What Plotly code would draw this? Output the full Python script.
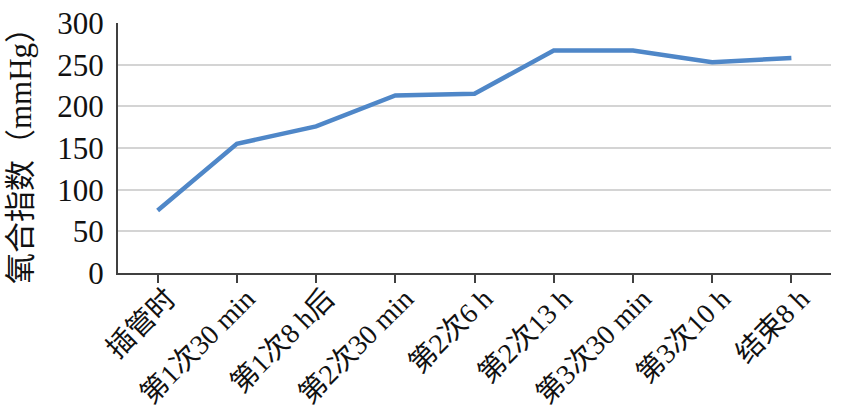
import plotly.graph_objects as go

# ---------------------------------------------------------------------------
# Data
# ---------------------------------------------------------------------------

time_points = [
    "插管时", "第1次30 min", "第1次8 h后", "第2次30 min", "第2次6 h",
    "第2次13 h", "第3次30 min", "第3次10 h", "结束8 h",
]
oxygenation_index = [75, 155, 176, 213, 215, 267, 267, 253, 258]

y_ticks = [0, 50, 100, 150, 200, 250, 300]

FONT = "Liberation Serif, Times New Roman, Noto Sans CJK SC, serif"

# ---------------------------------------------------------------------------
# Chart
# ---------------------------------------------------------------------------

fig = go.Figure()
fig.add_trace(go.Scatter(
    x=time_points,
    y=oxygenation_index,
    mode="lines",
    line=dict(color="#4f87c8", width=4.5),
    showlegend=False,
))

fig.update_layout(
    width=843,
    height=418,
    paper_bgcolor="white",
    plot_bgcolor="white",
    font=dict(family=FONT, color="#111111"),
    margin=dict(t=23, b=145, l=118, r=12),
    xaxis=dict(
        type="category",
        range=[-0.5, len(time_points) - 0.5],
        automargin=False,
        showgrid=False,
        showline=True,
        linecolor="#404040",
        linewidth=2,
        ticks="outside",
        ticklen=8,
        tickwidth=2,
        tickcolor="#404040",
        tickangle=-45,
        ticklabelstandoff=-12,
        ticklabelshift=10,
        tickfont=dict(size=28, family=FONT, color="#111111"),
    ),
    yaxis=dict(
        range=[0, 300],
        tickvals=y_ticks,
        automargin=False,
        showgrid=True,
        gridcolor="#d4d4d4",
        gridwidth=2,
        showline=True,
        linecolor="#404040",
        linewidth=2,
        zeroline=False,
        ticks="",
        ticklabelstandoff=6,
        tickfont=dict(size=31, family=FONT, color="#111111"),
        title=dict(text="氧合指数（mmHg）", font=dict(size=31, family=FONT, color="#111111"),
                   standoff=16),
    ),
)

# drop the default 8px body margin so the figure fills the window exactly
fig.write_html(
    "out.html",
    config={"displayModeBar": False},
    post_script="document.body.style.margin = '0';",
)
